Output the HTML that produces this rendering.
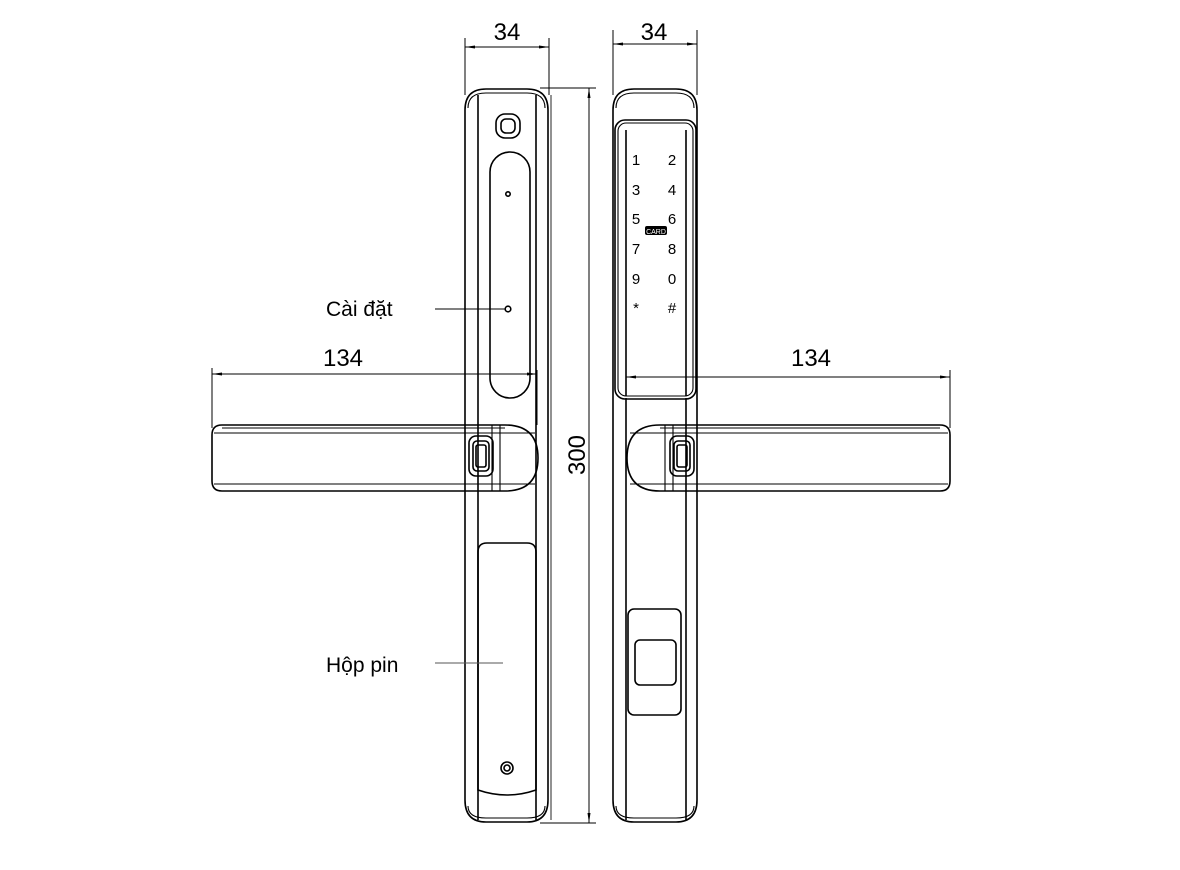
<!DOCTYPE html>
<html><head><meta charset="utf-8"><style>
html,body{margin:0;padding:0;background:#fff;width:1180px;height:870px;overflow:hidden}
svg{display:block}
text{font-family:"Liberation Sans","DejaVu Sans",sans-serif;fill:#000}
</style></head><body>
<svg width="1180" height="870" viewBox="0 0 1180 870" xmlns="http://www.w3.org/2000/svg">
<defs>
<marker id="a" viewBox="0 0 10 4" refX="10" refY="2" markerWidth="10" markerHeight="4" orient="auto-start-reverse" markerUnits="userSpaceOnUse"><path d="M0,0.5 L10,2 L0,3.5z" fill="#000"/></marker>
</defs>
<g fill="none" stroke="#000" stroke-width="1.6">
<!-- dim 34 left -->
<line x1="465" y1="38" x2="465" y2="95" stroke-width="1"/>
<line x1="549" y1="38" x2="549" y2="95" stroke-width="1"/>
<line x1="465" y1="47" x2="549" y2="47" stroke-width="1" marker-start="url(#a)" marker-end="url(#a)"/>
<!-- dim 34 right -->
<line x1="613" y1="30" x2="613" y2="95" stroke-width="1"/>
<line x1="697" y1="30" x2="697" y2="95" stroke-width="1"/>
<line x1="613" y1="44" x2="697" y2="44" stroke-width="1" marker-start="url(#a)" marker-end="url(#a)"/>
<!-- dim 300 -->
<line x1="540" y1="88" x2="596" y2="88" stroke-width="1"/>
<line x1="540" y1="823" x2="596" y2="823" stroke-width="1"/>
<line x1="589" y1="88" x2="589" y2="823" stroke-width="1" marker-start="url(#a)" marker-end="url(#a)"/>

<!-- left body -->
<path d="M465,110 Q465,89 486,89 L527,89 Q548,89 548,110 L548,800 Q548,822 527,822 L486,822 Q465,822 465,800 Z"/>
<path d="M468,108 Q468,93 486,93 L527,93 Q545,93 545,108" stroke-width="1.1"/>
<path d="M468,806 Q468,818 486,818 L527,818 Q545,818 545,806" stroke-width="1.1"/>
<line x1="478" y1="95" x2="478" y2="820"/>
<line x1="536" y1="95" x2="536" y2="820"/>
<line x1="551" y1="95" x2="551" y2="820" stroke="#777"/>
<rect x="496" y="114" width="24" height="24" rx="9"/><rect x="501" y="119" width="14" height="14" rx="5"/>
<rect x="490" y="152" width="40" height="246" rx="20"/>
<circle cx="508" cy="194" r="2.2"/><circle cx="508" cy="309" r="2.8"/>
<path d="M478,552 Q478,543 487,543 L527,543 Q536,543 536,552 L536,790 Q507,800 478,790 Z"/>
<circle cx="507" cy="768" r="6"/><circle cx="507" cy="768" r="3"/>

<!-- right body -->
<path d="M613,110 Q613,89 634,89 L676,89 Q697,89 697,110 L697,800 Q697,822 676,822 L634,822 Q613,822 613,800 Z"/>
<path d="M616,108 Q616,93 634,93 L676,93 Q694,93 694,108" stroke-width="1.1"/>
<path d="M616,806 Q616,818 634,818 L676,818 Q694,818 694,806" stroke-width="1.1"/>
<line x1="626" y1="398" x2="626" y2="820"/>
<line x1="686" y1="398" x2="686" y2="820"/>
<rect x="615" y="120" width="81" height="279" rx="10"/>
<rect x="618" y="123" width="75" height="273" rx="8" stroke-width="1.1"/>
<line x1="626" y1="130" x2="626" y2="396"/>
<line x1="686" y1="130" x2="686" y2="396"/>
<rect x="628" y="609" width="53" height="106" rx="6"/>
<rect x="635" y="640" width="41" height="45" rx="5"/>

<!-- left handle -->
<path d="M222,425 L505,425 Q538,425 538,458 Q538,491 505,491 L222,491 Q212,491 212,481 L212,435 Q212,425 222,425 Z"/>
<path d="M222,428 L505,428" stroke-width="1"/>
<line x1="214" y1="433" x2="535" y2="433" stroke-width="1.1"/>
<line x1="214" y1="484" x2="535" y2="484" stroke-width="1.1"/>
<line x1="492" y1="425" x2="492" y2="491" stroke-width="1.1"/>
<line x1="500" y1="425" x2="500" y2="491" stroke-width="1.1"/>
<rect x="469" y="436" width="24" height="40" rx="7"/>
<rect x="473" y="441" width="16" height="30" rx="4"/>
<rect x="476" y="445" width="10" height="22" rx="2"/>

<!-- right handle -->
<path d="M940,425 L660,425 Q627,425 627,458 Q627,491 660,491 L940,491 Q950,491 950,481 L950,435 Q950,425 940,425 Z"/>
<path d="M660,428 L940,428" stroke-width="1"/>
<line x1="630" y1="433" x2="948" y2="433" stroke-width="1.1"/>
<line x1="630" y1="484" x2="948" y2="484" stroke-width="1.1"/>
<line x1="665" y1="425" x2="665" y2="491" stroke-width="1.1"/>
<line x1="673" y1="425" x2="673" y2="491" stroke-width="1.1"/>
<rect x="670" y="436" width="24" height="40" rx="7"/>
<rect x="674" y="441" width="16" height="30" rx="4"/>
<rect x="677" y="445" width="10" height="22" rx="2"/>

<!-- dim 134 -->
<line x1="212" y1="368" x2="212" y2="428" stroke-width="1"/>
<line x1="212" y1="374" x2="537" y2="374" stroke-width="1" marker-start="url(#a)" marker-end="url(#a)"/>
<line x1="537" y1="370" x2="537" y2="425" stroke-width="1"/>
<line x1="950" y1="370" x2="950" y2="428" stroke-width="1"/>
<line x1="626" y1="377" x2="950" y2="377" stroke-width="1" marker-start="url(#a)" marker-end="url(#a)"/>

<!-- leaders -->
<line x1="435" y1="309" x2="505" y2="309" stroke-width="1"/>
<line x1="435" y1="663" x2="503" y2="663" stroke-width="1" stroke="#555"/>
</g>
<text x="507" y="40" font-size="24" text-anchor="middle">34</text>
<text x="654" y="40" font-size="24" text-anchor="middle">34</text>
<text x="343" y="366" font-size="24" text-anchor="middle">134</text>
<text x="811" y="366" font-size="24" text-anchor="middle">134</text>
<text transform="translate(585,455) rotate(-90)" font-size="24" text-anchor="middle">300</text>
<text x="326" y="316" font-size="21">Cài đặt</text>
<text x="326" y="672" font-size="21">Hộp pin</text>
<g font-size="15" text-anchor="middle" font-family="Liberation Sans, sans-serif">
<text x="636" y="165">1</text><text x="672" y="165">2</text>
<text x="636" y="195">3</text><text x="672" y="195">4</text>
<text x="636" y="224">5</text><text x="672" y="224">6</text>
<text x="636" y="254">7</text><text x="672" y="254">8</text>
<text x="636" y="284">9</text><text x="672" y="284">0</text>
<text x="636" y="313">*</text><text x="672" y="313">#</text>
</g>
<rect x="645" y="226" width="22" height="9" rx="2" fill="#000"/>
<text x="656" y="234" font-size="7" style="fill:#fff" text-anchor="middle">CARD</text>
</svg>
</body></html>
